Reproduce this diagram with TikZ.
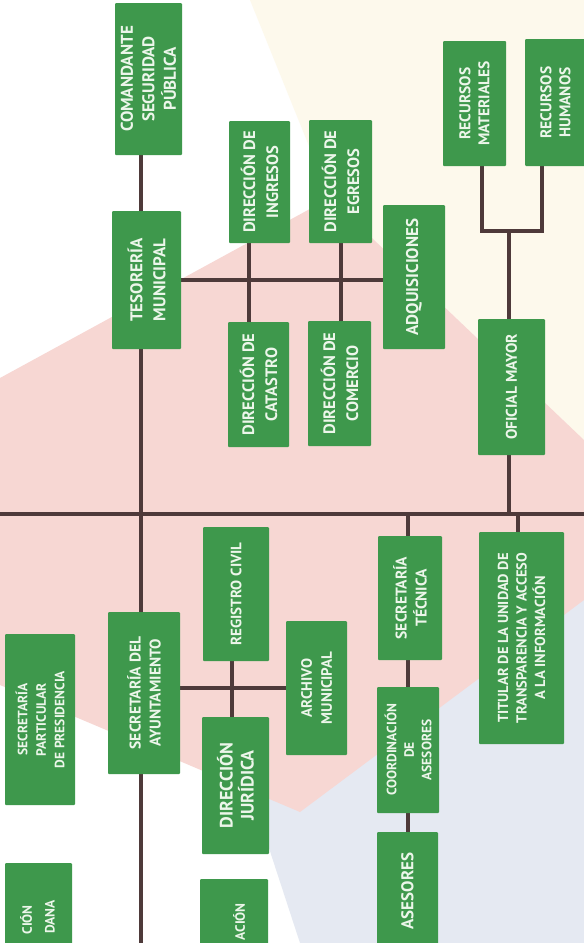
\documentclass[tikz,border=0pt]{standalone}
\usepackage{fontspec}
\setmainfont{PT Sans}
\usetikzlibrary{calc}
\definecolor{boxgreen}{RGB}{62,152,76}
\definecolor{linecol}{RGB}{78,58,58}
\definecolor{pinkbg}{RGB}{247,215,211}
\definecolor{creambg}{RGB}{253,249,236}
\definecolor{bluebg}{RGB}{229,233,242}
\definecolor{txt}{RGB}{236,246,234}
\pgfdeclarelayer{bg}
\pgfdeclarelayer{conn}
\pgfsetlayers{bg,conn,main}
\newcommand{\fsz}[2]{\fontsize{#1}{#2}\selectfont\bfseries}
\tikzset{
  orgbox/.style={fill=boxgreen, text=txt, rotate=90, align=center, inner sep=0pt, rounded corners=1pt},
  conn/.style={draw=linecol, line width=4pt},
  parttext/.style={text=txt, rotate=90, inner sep=0pt, anchor=east}
}
\begin{document}
\begin{tikzpicture}[x=1pt,y=1pt]
\useasboundingbox (0,0) rectangle (584,-943);
% boxes
\node[orgbox, minimum width=152pt, minimum height=67pt, font=\fsz{17}{21.5}] (com) at (148.5,-79) {COMANDANTE\\SEGURIDAD\\PÚBLICA};
\node[orgbox, minimum width=138pt, minimum height=69pt, font=\fsz{17}{23}] (tes) at (146.5,-280) {TESORERÍA\\MUNICIPAL};
\node[orgbox, minimum width=122pt, minimum height=61pt, font=\fsz{16.5}{23}] (ing) at (259.5,-182) {DIRECCIÓN DE\\INGRESOS};
\node[orgbox, minimum width=123pt, minimum height=63pt, font=\fsz{16.5}{23}] (egr) at (340.5,-181.5) {DIRECCIÓN DE\\EGRESOS};
\node[orgbox, minimum width=144pt, minimum height=62pt, font=\fsz{17}{21}] (adq) at (414,-277) {ADQUISICIONES};
\node[orgbox, minimum width=125pt, minimum height=63pt, font=\fsz{15.5}{19}] (mat) at (474.5,-103.5) {RECURSOS\\MATERIALES};
\node[orgbox, minimum width=127pt, minimum height=61pt, font=\fsz{15.5}{19}] (hum) at (555.5,-102.5) {RECURSOS\\HUMANOS};
\node[orgbox, minimum width=125pt, minimum height=61pt, font=\fsz{16.5}{23}] (cat) at (258.5,-384.5) {DIRECCIÓN DE\\CATASTRO};
\node[orgbox, minimum width=125pt, minimum height=63pt, font=\fsz{16.5}{23}] (come) at (339.5,-383.5) {DIRECCIÓN DE\\COMERCIO};
\node[orgbox, minimum width=136pt, minimum height=67pt, font=\fsz{15.5}{19}] (ofi) at (511.5,-387) {OFICIAL MAYOR};
\node[orgbox, minimum width=134pt, minimum height=66pt, font=\fsz{15}{19}] (reg) at (236,-594) {REGISTRO CIVIL};
\node[orgbox, minimum width=162pt, minimum height=72pt, font=\fsz{15.5}{20}] (sec) at (144,-693) {SECRETARÍA DEL\\AYUNTAMIENTO};
\node[orgbox, minimum width=137pt, minimum height=67pt, font=\fsz{18}{21}] (jur) at (235.5,-785.5) {DIRECCIÓN\\JURÍDICA};
\node[orgbox, minimum width=134pt, minimum height=61pt, font=\fsz{15}{20}] (arc) at (316.5,-688) {ARCHIVO\\MUNICIPAL};
\node[orgbox, minimum width=124pt, minimum height=64pt, font=\fsz{15.5}{20}] (tec) at (410,-598) {SECRETARÍA\\TÉCNICA};
\node[orgbox, minimum width=212pt, minimum height=85pt, font=\fsz{14.5}{18.5}] (tit) at (521.5,-638) {TITULAR DE LA UNIDAD DE\\TRANSPARENCIA Y ACCESO\\A LA INFORMACIÓN};
\node[orgbox, minimum width=126pt, minimum height=62pt, font=\fsz{13.5}{17.5}] (coo) at (408,-750) {COORDINACIÓN\\DE\\ASESORES};
\node[orgbox, minimum width=118pt, minimum height=61pt, font=\fsz{17}{21}] (ase) at (407.5,-891) {ASESORES};
\node[orgbox, minimum width=171pt, minimum height=70pt, font=\fsz{13.5}{18.5}] (par) at (40,-719.5) {SECRETARÍA\\PARTICULAR\\DE PRESIDENCIA};
% partially visible boxes at the bottom edge
\node[orgbox, minimum width=150pt, minimum height=67pt] (bl) at (38.5,-938) {};
\node[parttext, font=\fsz{13.5}{17}] (bl1) at (26,-905) {CIÓN};
\node[parttext, font=\fsz{13.5}{17}] (bl2) at (50,-900) {DANA};
\node[orgbox, minimum width=150pt, minimum height=68pt] (bm) at (234,-954) {};
\node[parttext, font=\fsz{13.5}{17}] (bm1) at (239,-903) {ACIÓN};
% junction coordinates
\coordinate (hl) at (0,-514);
\coordinate (hr) at (584,-514);
\coordinate (mx) at (141,0);
\coordinate (mb) at (141,-943);
\coordinate (xi) at (249,0);
\coordinate (b1) at (482,-231);
\coordinate (b2) at (542,-231);
\coordinate (b3) at (509,-231);
\coordinate (xt) at (518,0);
\coordinate (xs) at (408,0);
\coordinate (xr) at (232,0);
% connectors
\begin{pgfonlayer}{conn}
\draw[conn] (mx |- com.center) -- (mb);
\draw[conn] (hl) -- (hr);
\draw[conn] (tes.center) -- (adq.center |- tes.center);
\draw[conn] (xi |- ing.center) -- (xi |- cat.center);
\draw[conn] (egr.center) -- (egr.center |- come.center);
\draw[conn] (b1 |- mat.center) -- (b1) -- (b2) -- (b2 |- hum.center);
\draw[conn] (b3) -- (b3 |- hl);
\draw[conn] (xt |- hl) -- (xt |- tit.center);
\draw[conn] (xs |- hl) -- (xs |- ase.center);
\draw[conn] (sec.center |- arc.center) -- (arc.center);
\draw[conn] (xr |- reg.center) -- (xr |- jur.center);
\end{pgfonlayer}
% background
\begin{pgfonlayer}{bg}
\fill[white] (0,0) rectangle (584,-943);
\fill[creambg] (250,0) -- (584,0) -- (584,-440) -- (330,-198) -- cycle;
\fill[bluebg] (584,-560) -- (584,-943) -- (300,-943) -- (250,-790) -- cycle;
\fill[pinkbg] (0,-378) -- (330,-198) -- (584,-440) -- (584,-600) -- (300,-812) -- (0,-685) -- cycle;
\end{pgfonlayer}
\end{tikzpicture}
\end{document}
